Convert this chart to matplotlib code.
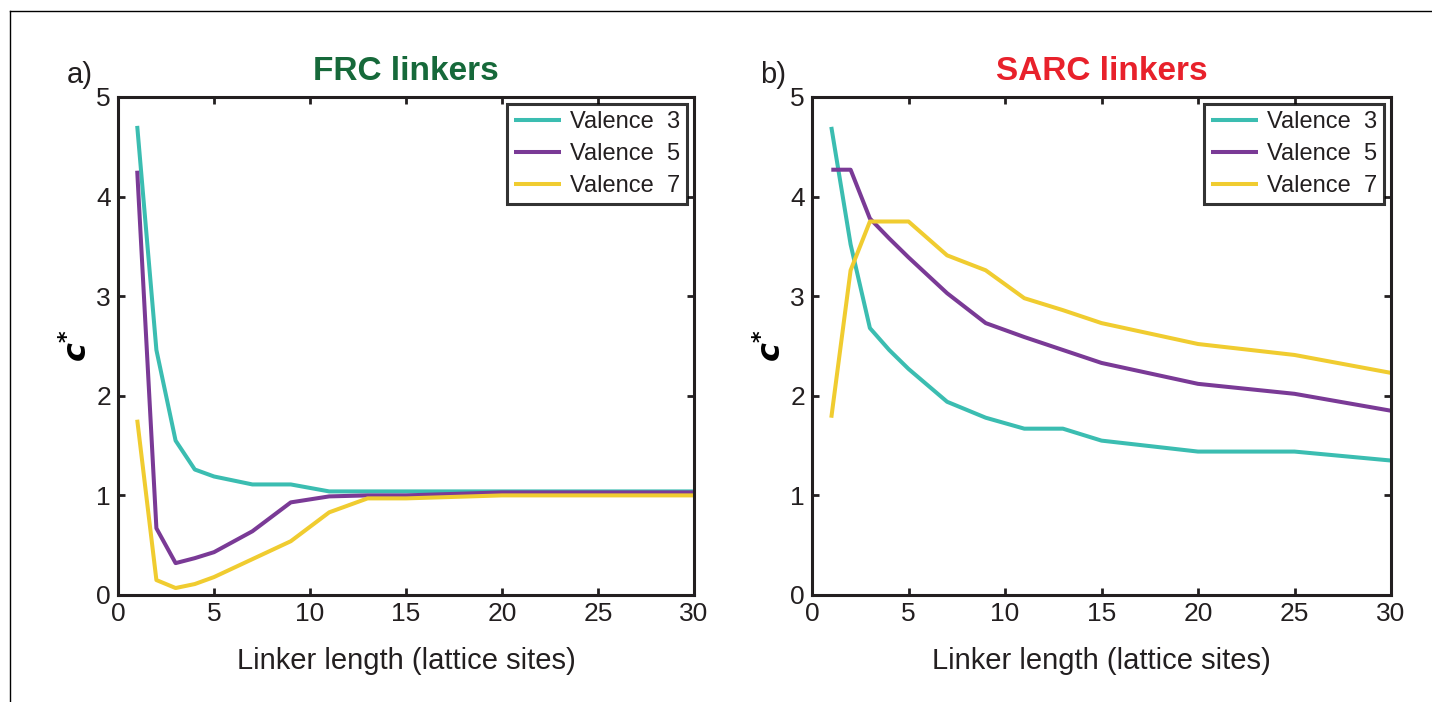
import matplotlib.pyplot as plt
from matplotlib.lines import Line2D

plt.rcParams["font.family"] = ["Liberation Sans", "DejaVu Sans"]

# data
linker_len = [1, 2, 3, 4, 5, 7, 9, 11, 13, 15, 20, 25, 30]

frc_v3 = [4.71, 2.46, 1.55, 1.26, 1.19, 1.11, 1.11, 1.04, 1.04, 1.04, 1.04, 1.04, 1.04]
frc_v5 = [4.26, 0.67, 0.32, 0.37, 0.43, 0.64, 0.93, 0.99, 1.0, 1.0, 1.03, 1.03, 1.03]
frc_v7 = [1.76, 0.15, 0.07, 0.11, 0.18, 0.36, 0.54, 0.83, 0.97, 0.97, 1.0, 1.0, 1.0]

sarc_v3 = [4.70, 3.52, 2.68, 2.46, 2.27, 1.94, 1.78, 1.67, 1.67, 1.55, 1.44, 1.44, 1.35]
sarc_v5 = [4.27, 4.27, 3.78, 3.58, 3.39, 3.03, 2.73, 2.59, 2.46, 2.33, 2.12, 2.02, 1.85]
sarc_v7 = [1.78, 3.26, 3.75, 3.75, 3.75, 3.41, 3.26, 2.98, 2.86, 2.73, 2.52, 2.41, 2.23]

labels = ["Valence  3", "Valence  5", "Valence  7"]
colors = ["#3bbdb1", "#7a3a96", "#f0cc30"]

panels = [
    ("a)", "FRC linkers", "#16693a", [frc_v3, frc_v5, frc_v7]),
    ("b)", "SARC linkers", "#e8212b", [sarc_v3, sarc_v5, sarc_v7]),
]

W, H = 1432, 702
fig = plt.figure(figsize=(W / 100, H / 100), dpi=100)

# thin frame lines at the top and left of the figure
fig.add_artist(Line2D([10 / W, 1], [1 - 11 / H, 1 - 11 / H], color="black", lw=1))
fig.add_artist(Line2D([10 / W, 10 / W], [0, 1 - 11 / H], color="black", lw=1))

rects = [
    [118 / W, 107 / H, 576 / W, 498 / H],
    [812 / W, 107 / H, 579 / W, 498 / H],
]

for rect, (tag, title, tcolor, series) in zip(rects, panels):
    ax = fig.add_axes(rect)
    for ys, lab, c in zip(series, labels, colors):
        ax.plot(linker_len, ys, color=c, lw=2.9, label=lab, solid_capstyle="butt")
    ax.set_xlim(0, 30)
    ax.set_ylim(0, 5)
    ax.set_xticks(range(0, 31, 5))
    ax.set_yticks(range(0, 6))
    ax.tick_params(direction="in", length=5, width=2, top=True, right=True,
                   labelsize=19, pad=5, colors="#231f20")
    for sp in ax.spines.values():
        sp.set_linewidth(2.2)
        sp.set_color("#231f20")
    ax.set_xlabel("Linker length (lattice sites)", fontsize=21, labelpad=15, color="#231f20")
    ax.set_ylabel("$\\boldsymbol{c}^{\\boldsymbol{*}}$", fontsize=23, labelpad=2)
    ax.set_title(title, color=tcolor, fontsize=24, fontweight="bold", pad=12)
    ax.text(-0.089, 1.044, tag, transform=ax.transAxes, fontsize=21, color="#231f20",
            ha="left", va="center")
    leg = ax.legend(loc="upper right", fontsize=17, frameon=True, fancybox=False,
                    handlelength=2.0, handletextpad=0.35, labelspacing=0.42,
                    borderpad=0.3, borderaxespad=0.3)
    leg.get_frame().set_edgecolor("black")
    leg.get_frame().set_linewidth(2.2)
    for t in leg.get_texts():
        t.set_color("#231f20")

fig.savefig("out.png", dpi=100)
